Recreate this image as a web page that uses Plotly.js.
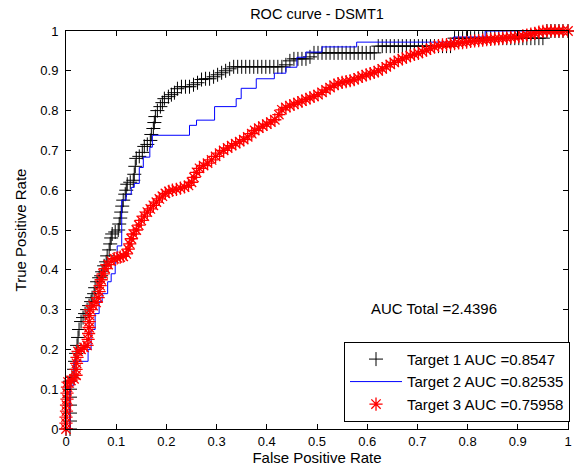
<!DOCTYPE html>
<html>
<head>
<meta charset="utf-8">
<script src="https://cdn.plot.ly/plotly-3.0.1.min.js"></script>
<style>html,body{margin:0;padding:0;background:#fff;}#chart{width:574px;height:470px;}</style>
</head>
<body>
<div id="chart"></div>
<script>
// Target 1 ROC points (black "+")
var t1x = [0,0.008,0.008,0.008,0.008,0.008,0.008,0.008,0.012,0.016,0.018,0.02,0.022,0.024,0.026,0.03,0.034,0.038,0.042,0.046,0.05,0.052,0.056,0.058,0.062,0.066,0.07,0.072,0.076,0.08,0.082,0.086,0.088,0.09,0.092,0.098,0.104,0.106,0.108,0.11,0.112,0.114,0.118,0.12,0.122,0.128,0.134,0.136,0.138,0.14,0.146,0.152,0.156,0.162,0.168,0.17,0.174,0.176,0.178,0.182,0.188,0.192,0.196,0.204,0.21,0.216,0.222,0.23,0.238,0.246,0.254,0.262,0.27,0.278,0.286,0.294,0.302,0.31,0.318,0.326,0.334,0.342,0.35,0.358,0.366,0.374,0.382,0.39,0.398,0.406,0.414,0.422,0.43,0.438,0.446,0.454,0.462,0.47,0.478,0.486,0.494,0.502,0.51,0.518,0.526,0.534,0.542,0.55,0.558,0.566,0.574,0.582,0.59,0.598,0.606,0.614,0.622,0.63,0.638,0.646,0.654,0.662,0.67,0.678,0.686,0.694,0.702,0.71,0.718,0.726,0.734,0.742,0.75,0.758,0.766,0.774,0.782,0.79,0.798,0.806,0.814,0.822,0.83,0.838,0.846,0.854,0.862,0.87,0.878,0.886,0.894,0.902,0.91,0.918,0.926,0.934,0.942,0.95,0.958,0.966,0.974,0.982,0.99,1];
var t1y = [0,0,0.02,0.04,0.06,0.08,0.1,0.12,0.13,0.15,0.17,0.19,0.21,0.23,0.25,0.27,0.28,0.29,0.3,0.31,0.32,0.33,0.34,0.355,0.37,0.38,0.385,0.395,0.41,0.42,0.435,0.45,0.465,0.48,0.49,0.495,0.5,0.515,0.53,0.545,0.56,0.575,0.59,0.6,0.615,0.62,0.625,0.64,0.66,0.68,0.685,0.695,0.71,0.715,0.725,0.74,0.755,0.77,0.785,0.8,0.81,0.82,0.83,0.835,0.84,0.845,0.855,0.86,0.86,0.86,0.865,0.87,0.878,0.88,0.88,0.885,0.89,0.895,0.9,0.905,0.91,0.91,0.91,0.91,0.91,0.91,0.91,0.91,0.91,0.91,0.91,0.91,0.91,0.915,0.925,0.93,0.93,0.93,0.93,0.935,0.945,0.945,0.945,0.945,0.945,0.945,0.945,0.945,0.945,0.945,0.945,0.945,0.945,0.945,0.945,0.945,0.962,0.962,0.962,0.962,0.962,0.962,0.962,0.962,0.962,0.962,0.962,0.962,0.962,0.962,0.962,0.962,0.962,0.962,0.962,0.982,0.982,0.982,0.982,0.982,0.982,0.982,0.982,0.982,0.982,0.982,0.982,0.982,0.982,0.982,0.982,0.982,0.982,0.982,0.982,0.982,0.982,0.982,1,1,1,1,1,1];
// Target 2 ROC staircase (blue line)
var t2x = [0,0.008,0.008,0.016,0.016,0.044,0.044,0.05,0.05,0.058,0.058,0.066,0.066,0.072,0.072,0.083,0.083,0.09,0.09,0.098,0.098,0.102,0.102,0.111,0.111,0.12,0.12,0.13,0.13,0.136,0.136,0.146,0.146,0.154,0.154,0.167,0.167,0.172,0.172,0.246,0.246,0.26,0.26,0.296,0.296,0.339,0.339,0.349,0.349,0.379,0.379,0.415,0.415,0.438,0.438,0.46,0.46,0.478,0.478,0.51,0.51,0.579,0.579,0.772,0.772,0.835,0.835,1];
var t2y = [0,0,0.11,0.11,0.17,0.17,0.2,0.2,0.25,0.25,0.29,0.29,0.32,0.32,0.34,0.34,0.37,0.37,0.39,0.39,0.42,0.42,0.46,0.46,0.575,0.575,0.59,0.59,0.607,0.607,0.617,0.617,0.657,0.657,0.683,0.683,0.708,0.708,0.738,0.738,0.763,0.763,0.776,0.776,0.81,0.81,0.83,0.83,0.856,0.856,0.88,0.88,0.894,0.894,0.909,0.909,0.934,0.934,0.947,0.947,0.96,0.96,0.972,0.972,0.985,0.985,1,1];
// Target 3 ROC points (red "*")
var t3x = [0,0,0,0.001,0.001,0.002,0.002,0.003,0.004,0.01,0.016,0.02,0.02,0.021,0.022,0.024,0.03,0.036,0.042,0.044,0.045,0.046,0.046,0.047,0.048,0.054,0.06,0.064,0.066,0.068,0.07,0.074,0.078,0.084,0.09,0.096,0.102,0.108,0.114,0.12,0.124,0.127,0.13,0.134,0.14,0.145,0.15,0.156,0.162,0.168,0.174,0.18,0.186,0.192,0.198,0.205,0.212,0.22,0.228,0.236,0.244,0.25,0.255,0.26,0.266,0.274,0.282,0.29,0.298,0.306,0.314,0.322,0.33,0.338,0.346,0.354,0.362,0.37,0.376,0.384,0.392,0.4,0.408,0.416,0.424,0.43,0.438,0.446,0.454,0.462,0.47,0.478,0.486,0.494,0.502,0.51,0.518,0.526,0.534,0.542,0.55,0.558,0.566,0.574,0.582,0.59,0.598,0.606,0.614,0.622,0.63,0.638,0.646,0.654,0.662,0.67,0.678,0.686,0.694,0.702,0.71,0.718,0.726,0.734,0.742,0.75,0.758,0.766,0.774,0.782,0.79,0.798,0.806,0.814,0.822,0.83,0.838,0.846,0.854,0.862,0.87,0.878,0.886,0.894,0.902,0.91,0.918,0.926,0.934,0.942,0.95,0.958,0.966,0.974,0.982,0.99,1];
var t3y = [0,0.015,0.03,0.045,0.06,0.075,0.09,0.105,0.118,0.122,0.126,0.135,0.15,0.165,0.18,0.195,0.2,0.205,0.21,0.225,0.24,0.255,0.27,0.285,0.3,0.31,0.318,0.33,0.345,0.36,0.375,0.39,0.403,0.413,0.422,0.428,0.43,0.432,0.434,0.44,0.452,0.465,0.478,0.49,0.5,0.512,0.524,0.535,0.545,0.553,0.562,0.57,0.578,0.585,0.592,0.597,0.6,0.602,0.605,0.608,0.612,0.62,0.632,0.645,0.655,0.662,0.668,0.676,0.685,0.693,0.7,0.706,0.712,0.717,0.722,0.727,0.734,0.742,0.75,0.756,0.761,0.766,0.771,0.777,0.79,0.802,0.808,0.812,0.816,0.82,0.824,0.828,0.832,0.836,0.84,0.846,0.852,0.858,0.864,0.868,0.871,0.873,0.875,0.878,0.882,0.886,0.89,0.893,0.896,0.9,0.905,0.91,0.916,0.921,0.926,0.93,0.934,0.938,0.941,0.944,0.948,0.952,0.956,0.96,0.963,0.965,0.966,0.967,0.968,0.97,0.971,0.972,0.974,0.975,0.976,0.977,0.978,0.979,0.98,0.981,0.982,0.983,0.984,0.985,0.986,0.988,0.99,0.992,0.994,0.997,0.999,1,1,1,1,1,1];

var seriesNames = ["Target 1 AUC =0.8547", "Target 2 AUC =0.82535", "Target 3 AUC =0.75958"];
var totalText = "AUC Total =2.4396";
var tickVals = [0,0.1,0.2,0.3,0.4,0.5,0.6,0.7,0.8,0.9,1];
var tickText = ["0","0.1","0.2","0.3","0.4","0.5","0.6","0.7","0.8","0.9","1"];

var FONT = "Liberation Sans, Arial, Helvetica, sans-serif";

var traces = [
  {x: t1x, y: t1y, name: seriesNames[0], type: "scatter", mode: "markers", cliponaxis: false,
   marker: {symbol: "cross-thin-open", size: 10, color: "#000", line: {color: "#000", width: 1}}},
  {x: t2x, y: t2y, name: seriesNames[1], type: "scatter", mode: "lines", cliponaxis: false,
   line: {color: "#0000ff", width: 1}},
  {x: t3x, y: t3y, name: seriesNames[2], type: "scatter", mode: "markers", cliponaxis: false,
   marker: {symbol: "asterisk-open", size: 11, color: "#ff0000", line: {color: "#ff0000", width: 1.3}}}
];

var axisCommon = {
  range: [0, 1], autorange: false, tickmode: "array", tickvals: tickVals, ticktext: tickText,
  ticks: "inside", ticklen: 5, tickwidth: 1, tickcolor: "#000",
  showline: true, linecolor: "#000", linewidth: 1, mirror: "ticks",
  showgrid: false, zeroline: false,
  tickfont: {family: FONT, size: 13, color: "#000"}
};

var layout = {
  width: 574, height: 470,
  margin: {l: 66, r: 4, t: 31, b: 41},
  paper_bgcolor: "#fff", plot_bgcolor: "#fff",
  font: {family: FONT, color: "#000"},
  title: {text: "ROC curve - DSMT1", font: {family: FONT, size: 14.5, color: "#000"},
          xref: "paper", x: 0.5, xanchor: "center", yref: "container", y: 0.970, yanchor: "middle"},
  xaxis: Object.assign({}, axisCommon, {title: {text: "False Positive Rate", font: {family: FONT, size: 15, color: "#000"}, standoff: 4}}),
  yaxis: Object.assign({}, axisCommon, {ticklabelstandoff: 4, title: {text: "True Positive Rate", font: {family: FONT, size: 15, color: "#000"}, standoff: 10}}),
  showlegend: true,
  legend: {x: 1.004, xanchor: "right", y: 0.018, yanchor: "bottom", bgcolor: "#fff",
           bordercolor: "#000", borderwidth: 1, font: {family: FONT, size: 15, color: "#000"},
           tracegroupgap: 0, itemwidth: 52},
  annotations: [{x: 0.603, y: 0.302, xref: "x", yref: "y", text: totalText, showarrow: false,
                 xanchor: "left", yanchor: "middle", font: {family: FONT, size: 15, color: "#000"}}]
};

Plotly.newPlot("chart", traces, layout, {displayModeBar: false, staticPlot: true});
</script>
</body>
</html>
